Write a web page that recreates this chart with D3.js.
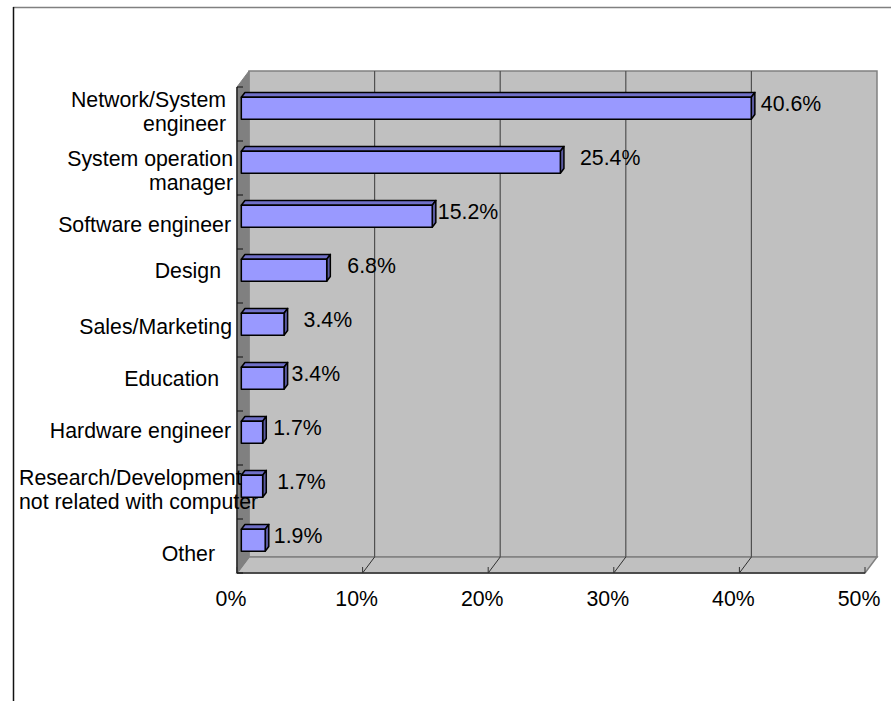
<!DOCTYPE html>
<html><head><meta charset="utf-8">
<script src="https://cdn.jsdelivr.net/npm/d3@7"></script>
<style>body{margin:0;background:#fff} svg{display:block} text{font-family:"Liberation Sans",Arial,sans-serif;fill:#000}</style>
</head><body><svg id="c" width="891" height="701"></svg>
<script>
// ---- data ----
const categories = ["Network/System\nengineer", "System operation\nmanager", "Software engineer", "Design",
  "Sales/Marketing", "Education", "Hardware engineer", "Research/Development\nnot related with computer", "Other"];
const values = [40.6, 25.4, 15.2, 6.8, 3.4, 3.4, 1.7, 1.7, 1.9];
const tickValues = [0, 10, 20, 30, 40, 50];
const tickLabels = ["0%", "10%", "20%", "30%", "40%", "50%"];
// label nudges (style only)
const labelGap = [5, 15, 1, 16, 15, 3, 6, 10, 4];
const catShift = [-5, 2, 0, -10, 1, -12, 0, 0, -16];
const catDy = [0, 5, 5, -3, -1, -3, -5, 0, 10];

const svg = d3.select("#c");
const FS = 21.3;
const x = d3.scaleLinear().domain([0, 50]).range([237, 865]);
const y = d3.scaleBand().domain(categories).range([87, 573]);
const DX = 12, DY = -16;            // depth vector of the 3D box
const f1 = 0.36, f2 = 0.66;         // bar depth (front/back fractions)
const o1 = [DX * f1, DY * f1], dd = [DX * (f2 - f1), DY * (f2 - f1)];
const barH = 22;
const y0 = y.range()[0], y1 = y.range()[1];
const pts = a => a.map(p => p.join(",")).join(" ");

// outer chart border
svg.append("line").attr("x1", 13).attr("x2", 891).attr("y1", 7.5).attr("y2", 7.5).attr("stroke", "#808080").attr("stroke-width", 1.5);
svg.append("line").attr("x1", 13.5).attr("x2", 13.5).attr("y1", 7).attr("y2", 701).attr("stroke", "#111").attr("stroke-width", 1.5);

// back wall
svg.append("polygon").attr("points", pts([[x(0) + DX, y0 + DY], [x(50) + DX, y0 + DY], [x(50) + DX, y1 + DY], [x(0) + DX, y1 + DY]]))
  .attr("fill", "#c0c0c0").attr("stroke", "#808080").attr("stroke-width", 1.5);
// floor
svg.append("polygon").attr("points", pts([[x(0), y1], [x(50), y1], [x(50) + DX, y1 + DY], [x(0) + DX, y1 + DY]]))
  .attr("fill", "#c0c0c0").attr("stroke", "#808080").attr("stroke-width", 1.5);
// left wall
svg.append("polygon").attr("points", pts([[x(0), y0], [x(0) + DX, y0 + DY], [x(0) + DX, y1 + DY], [x(0), y1]]))
  .attr("fill", "#808080").attr("stroke", "#808080").attr("stroke-width", 1);

// gridlines on back wall and floor
const grid = tickValues.filter(t => t > 0 && t < 50);
svg.selectAll(".gb").data(grid).join("line")
  .attr("x1", d => x(d) + DX).attr("x2", d => x(d) + DX).attr("y1", y0 + DY).attr("y2", y1 + DY)
  .attr("stroke", "#505050").attr("stroke-width", 1.2);
svg.selectAll(".gf").data(grid).join("line")
  .attr("x1", d => x(d) + DX).attr("x2", d => x(d)).attr("y1", y1 + DY).attr("y2", y1)
  .attr("stroke", "#303030").attr("stroke-width", 1);

// axes lines
svg.append("line").attr("x1", x(0)).attr("x2", x(50)).attr("y1", y1).attr("y2", y1).attr("stroke", "#333").attr("stroke-width", 1.5);
svg.append("line").attr("x1", x(0)).attr("x2", x(0)).attr("y1", y0).attr("y2", y1).attr("stroke", "#222").attr("stroke-width", 1.5);
svg.selectAll(".xt").data(tickValues).join("line")
  .attr("x1", d => x(d)).attr("x2", d => x(d)).attr("y1", y1).attr("y2", y1 - 6).attr("stroke", "#333");
const catTicks = categories.map(c => y(c)).concat([y1]);
svg.selectAll(".yt").data(catTicks).join("line")
  .attr("x1", x(0)).attr("x2", x(0) + 6).attr("y1", d => d).attr("y2", d => d).attr("stroke", "#111");

// bars
const bars = svg.selectAll(".bar").data(categories.map((c, i) => ({ c, v: values[i], i }))).join("g");
bars.each(function (d) {
  const g = d3.select(this);
  const xa = x(0) + o1[0], xb = x(d.v) + o1[0];
  const yc = y(d.c) + y.bandwidth() / 2 + o1[1];
  const yt = yc - barH / 2, yb = yc + barH / 2;
  const common = s => s.attr("stroke", "#000").attr("stroke-width", 1.5).attr("stroke-linejoin", "round");
  common(g.append("polygon").attr("points", pts([[xa, yt], [xb, yt], [xb + dd[0], yt + dd[1]], [xa + dd[0], yt + dd[1]]])).attr("fill", "#7070c8"));
  common(g.append("polygon").attr("points", pts([[xb, yt], [xb + dd[0], yt + dd[1]], [xb + dd[0], yb + dd[1]], [xb, yb]])).attr("fill", "#5a5aa0"));
  common(g.append("rect").attr("x", xa).attr("y", yt).attr("width", xb - xa).attr("height", barH).attr("fill", "#9999ff"));
  g.append("text").attr("x", xb + dd[0] + 1 + labelGap[d.i]).attr("y", yc + 3)
    .attr("font-size", FS).text(d.v.toFixed(1) + "%");
});

// category labels
categories.forEach((c, i) => {
  const lines = c.split("\n");
  const cy = y(c) + y.bandwidth() / 2 - 3 + catDy[i];
  const lh = 24;
  lines.forEach((ln, k) => {
    const base = cy - (lines.length - 1) * lh / 2 + k * lh + 7.5;
    const t = svg.append("text").attr("font-size", FS).attr("y", base).text(ln);
    const w = t.node().getComputedTextLength();
    let left = 231 + catShift[i] - w;
    if (left < 19) left = 19;
    t.attr("x", left);
  });
});

// x tick labels
svg.selectAll(".xl").data(tickValues).join("text")
  .attr("x", d => x(d) - 6).attr("y", 606).attr("text-anchor", "middle").attr("font-size", FS)
  .text((d, i) => tickLabels[i]);
</script></body></html>
